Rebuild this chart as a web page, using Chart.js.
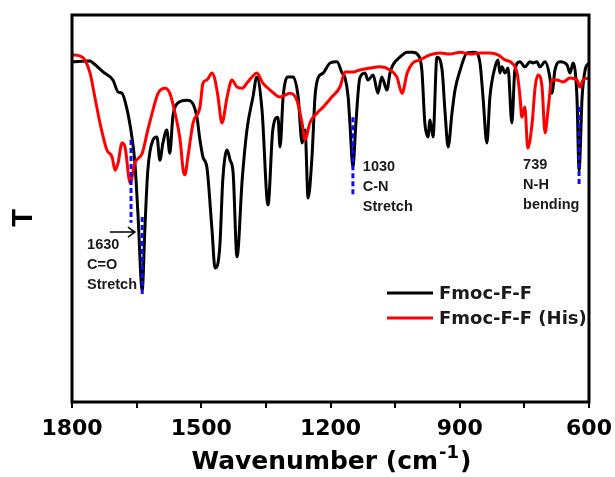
<!DOCTYPE html>
<html>
<head>
<meta charset="utf-8">
<script src="https://cdn.jsdelivr.net/npm/chart.js@4"></script>
<style>body{margin:0;background:#fff}</style>
</head>
<body>
<canvas id="ftir" width="615" height="477"></canvas>
<script>
// spectra (wavenumber cm-1 / transmittance, arbitrary units)
const wnBlack = [1800,1758,1751,1728,1705,1693,1684,1672,1661,1654,1647,1637,1631,1624,1612,1603,1596,1589,1580,1573,1566,1554,1533,1522,1510,1503,1496,1487,1475,1468,1457,1450,1440,1433,1426,1417,1405,1394,1380,1371,1359,1345,1334,1322,1317,1310,1299,1287,1275,1266,1259,1252,1243,1236,1229,1217,1201,1185,1173,1166,1159,1155,1148,1141,1132,1120,1113,1101,1090,1081,1069,1062,1055,1039,1022,1009,997,988,981,974,969,962,953,941,934,927,918,911,899,883,865,853,846,837,830,818,811,807,802,795,788,779,772,760,749,737,730,721,714,702,691,686,679,667,651,644,637,628,623,616,609,600];
const tBlack = [87.9,88.1,87.6,85.3,83.2,80.1,79.8,75.5,68.5,61.8,48.8,28.9,44.4,59.9,67.7,68.5,62.5,66.9,70.3,64.3,73.6,77.3,78.0,77.5,73.6,67.7,63.3,60.7,44.4,34.6,40.1,57.4,65.1,62.5,59.2,37.5,57.4,70.3,78.8,84.0,75.5,50.9,70.3,73.6,65.9,78.8,84.0,84.0,78.8,66.9,70.3,52.7,63.3,78.8,83.7,85.0,87.6,87.9,85.0,83.7,78.8,72.1,60.7,72.1,83.7,85.0,83.2,84.5,79.8,84.0,80.6,85.0,87.1,89.1,90.4,90.4,89.7,85.8,72.1,68.5,72.9,68.5,89.1,85.8,74.7,65.9,74.7,80.6,85.8,90.2,90.4,87.6,78.8,66.9,78.8,86.6,88.4,85.0,86.6,85.0,86.3,72.1,85.8,87.9,86.6,87.9,87.6,87.9,86.6,87.9,84.0,79.8,85.8,87.9,87.1,85.0,87.6,78.8,59.9,78.8,85.8,87.6];
const wnRed = [1800,1781,1770,1758,1747,1735,1719,1707,1700,1693,1684,1677,1665,1654,1637,1624,1612,1600,1584,1573,1561,1549,1542,1538,1531,1519,1503,1496,1487,1475,1468,1461,1452,1440,1429,1417,1405,1394,1382,1371,1357,1340,1317,1294,1278,1266,1259,1248,1231,1217,1197,1178,1166,1148,1132,1108,1085,1062,1046,1034,1022,1009,992,969,946,923,899,876,853,830,811,795,779,767,760,756,749,742,732,725,718,709,702,695,686,674,660,644,628,621,614,600];
const tRed = [89.7,89.4,88.4,85.0,78.8,72.1,65.1,63.3,59.9,61.8,66.9,65.9,56.6,61.8,64.3,70.3,75.5,79.8,81.1,79.8,74.7,67.7,59.9,58.7,63.3,72.1,76.2,82.4,83.2,85.0,83.2,78.8,72.1,78.8,83.2,81.4,81.1,82.4,84.0,85.0,82.4,80.6,78.8,79.8,78.0,72.1,67.7,72.1,74.7,76.2,78.8,81.4,85.3,85.3,85.8,86.3,86.6,85.8,84.0,79.8,85.0,87.6,88.4,89.7,90.2,89.9,90.4,89.9,90.2,90.2,89.7,88.4,87.6,85.0,78.8,73.6,76.2,65.6,72.1,81.4,84.5,81.4,69.5,75.5,83.2,83.2,82.7,83.7,83.2,81.4,83.2,83.7];
const seriesNames = ['Fmoc-F-F', 'Fmoc-F-F (His)'];
const xTickLabels = [1800, 1500, 1200, 900, 600];

// blue dashed peak markers: wavenumber, T top, T bottom
const markWn = [1663, 1637, 1148, 623];
const markTop = [67.7, 47.8, 73.6, 76.2];
const markBottom = [46.3, 27.6, 53.5, 55.6];
const peakText = [['1630', 'C=O', 'Stretch'], ['1030', 'C-N', 'Stretch'], ['739', 'N-H', 'bending']];

const toPts = (xs, ys) => xs.map((v, i) => ({x: v, y: ys[i]}));

const decor = {
  id: 'decor',
  afterDatasetsDraw(chart) {
    const {ctx, chartArea: a, scales: {x, y}} = chart;
    ctx.save();

    // dashed markers
    ctx.strokeStyle = '#0b0bff';
    ctx.lineWidth = 3;
    ctx.setLineDash([5, 3]);
    markWn.forEach((w, i) => {
      const px = x.getPixelForValue(w);
      ctx.beginPath();
      ctx.moveTo(px, y.getPixelForValue(markTop[i]));
      ctx.lineTo(px, y.getPixelForValue(markBottom[i]));
      ctx.stroke();
    });
    ctx.setLineDash([]);

    // frame
    ctx.strokeStyle = '#000';
    ctx.lineWidth = 3;
    ctx.strokeRect(a.left, a.top, a.right - a.left, a.bottom - a.top);

    // peak labels
    ctx.fillStyle = '#1a1a1a';
    ctx.font = 'bold 14.5px "Liberation Sans", Arial, sans-serif';
    ctx.textAlign = 'left';
    ctx.textBaseline = 'middle';
    const anchors = [[1765, 40.6], [1125, 60.7], [753, 61.2]];
    peakText.forEach((lines, i) => {
      const px = x.getPixelForValue(anchors[i][0]);
      const py = y.getPixelForValue(anchors[i][1]);
      lines.forEach((s, j) => ctx.fillText(s, px, py + j * 20));
    });

    // arrow to the C=O band
    const ay = y.getPixelForValue(43.9);
    const ax0 = x.getPixelForValue(1712), ax1 = x.getPixelForValue(1654);
    ctx.strokeStyle = '#000';
    ctx.lineWidth = 1.5;
    ctx.beginPath();
    ctx.moveTo(ax0, ay); ctx.lineTo(ax1, ay);
    ctx.moveTo(ax1 - 7, ay - 5); ctx.lineTo(ax1, ay); ctx.lineTo(ax1 - 7, ay + 5);
    ctx.stroke();

    // legend
    const lx = a.right - 202, ly = a.bottom - 109;
    [['#000', 0], ['#ff0000', 25]].forEach(([c, dy], i) => {
      ctx.strokeStyle = c;
      ctx.lineWidth = 3;
      ctx.beginPath();
      ctx.moveTo(lx, ly + dy); ctx.lineTo(lx + 46, ly + dy);
      ctx.stroke();
      ctx.fillStyle = '#1a1a1a';
      ctx.font = 'bold 18px "DejaVu Sans", sans-serif';
      ctx.fillText(seriesNames[i], lx + 52, ly + dy + 1);
    });

    // axis titles
    ctx.fillStyle = '#000';
    ctx.font = 'bold 25px "DejaVu Sans", sans-serif';
    const main = 'Wavenumber (cm', sup = '-1', close = ')';
    const wMain = ctx.measureText(main).width;
    const wClose = ctx.measureText(close).width;
    ctx.font = 'bold 18px "DejaVu Sans", sans-serif';
    const wSup = ctx.measureText(sup).width;
    let tx = (a.left + a.right) / 2 - (wMain + wSup + wClose) / 2;
    const ty = 462;
    ctx.textAlign = 'left';
    ctx.font = 'bold 25px "DejaVu Sans", sans-serif';
    ctx.fillText(main, tx, ty);
    ctx.font = 'bold 18px "DejaVu Sans", sans-serif';
    ctx.fillText(sup, tx + wMain + 1, ty - 9);
    ctx.font = 'bold 25px "DejaVu Sans", sans-serif';
    ctx.fillText(close, tx + wMain + wSup + 2, ty);

    ctx.translate(23, 218);
    ctx.rotate(-Math.PI / 2);
    ctx.textAlign = 'center';
    ctx.font = 'bold 29px "Liberation Sans", Arial, sans-serif';
    ctx.fillText('T', 0, 1);
    ctx.restore();
  }
};

new Chart(document.querySelector('#ftir'), {
  type: 'line',
  data: {
    datasets: [
      {
        label: seriesNames[0],
        data: toPts(wnBlack, tBlack),
        borderColor: '#000',
        borderWidth: 3,
        order: 1
      },
      {
        label: seriesNames[1],
        data: toPts(wnRed, tRed),
        borderColor: '#ff0000',
        borderWidth: 3,
        order: 0
      }
    ]
  },
  options: {
    responsive: false,
    animation: false,
    layout: { padding: { top: 15, right: 26, left: 0, bottom: 0 } },
    elements: {
      point: { radius: 0 },
      line: { cubicInterpolationMode: 'monotone' }
    },
    plugins: {
      legend: { display: false },
      tooltip: { enabled: false }
    },
    scales: {
      x: {
        type: 'linear',
        reverse: true,
        min: 600,
        max: 1800,
        ticks: {
          stepSize: 150,
          autoSkip: false,
          maxRotation: 0,
          padding: 8,
          color: '#000',
          font: { family: '"DejaVu Sans", sans-serif', size: 22, weight: 'bold' },
          callback: v => xTickLabels.includes(v) ? String(v) : ''
        },
        grid: { drawOnChartArea: false, tickLength: 6, color: '#000', lineWidth: 2 },
        border: { display: false },
        afterFit(s) {
          s.height = 75;
          s.paddingLeft = 0;
          s.paddingRight = 0;
        }
      },
      y: {
        min: 0,
        max: 100,
        ticks: { display: false },
        grid: { display: false },
        border: { display: false },
        afterFit(s) { s.width = 72; }
      }
    }
  },
  plugins: [decor]
});
</script>
</body>
</html>
